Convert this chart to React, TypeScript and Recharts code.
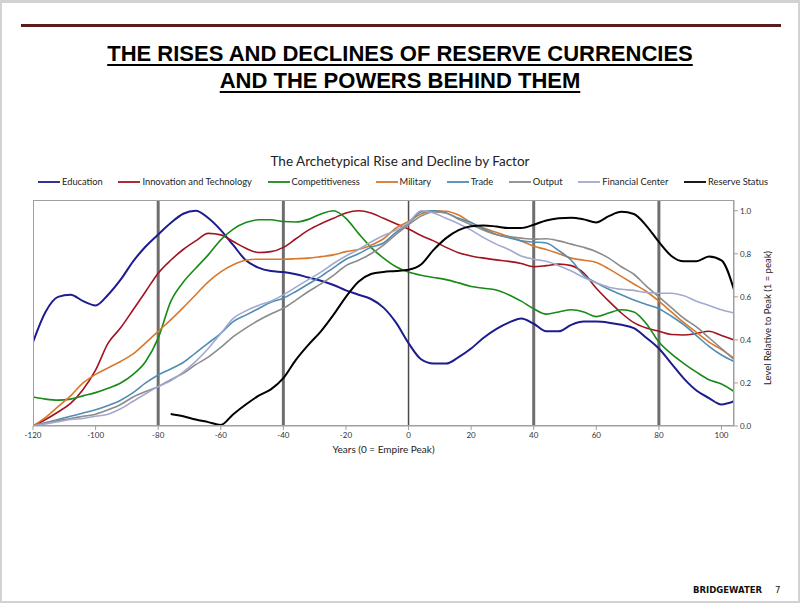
import React from "react";
import { LineChart, Line, XAxis, YAxis, ReferenceLine } from "recharts";

// years relative to the empire peak
const YEARS = [
  -120, -116, -112, -108, -104, -100, -96, -92, -88, -84, -80, -76, -72, -68, -64, -60, -56, -52, -48, -44,
  -40, -36, -32, -28, -24, -20, -16, -12, -8, -4, 0, 4, 8, 12, 16, 20, 24, 28, 32, 36, 40, 44, 48, 52, 56,
  60, 64, 68, 72, 76, 80, 84, 88, 92, 96, 100, 104,
];

const EDUCATION = [
  0.39, 0.53, 0.6, 0.61, 0.58, 0.56, 0.61, 0.68, 0.765, 0.834,
  0.89, 0.943, 0.986, 1.0, 0.966, 0.91, 0.84, 0.77, 0.736, 0.72,
  0.715, 0.705, 0.69, 0.675, 0.655, 0.63, 0.61, 0.59, 0.55, 0.48,
  0.385, 0.31, 0.29, 0.29, 0.32, 0.36, 0.41, 0.45, 0.48, 0.5,
  0.475, 0.44, 0.44, 0.47, 0.485, 0.485, 0.48, 0.47, 0.455, 0.41,
  0.36, 0.29, 0.22, 0.165, 0.13, 0.1, 0.115,
];
const INNOVATION = [
  0.0, 0.03, 0.065, 0.105, 0.17, 0.26, 0.385, 0.456, 0.54, 0.625,
  0.71, 0.77, 0.82, 0.86, 0.895, 0.888, 0.857, 0.826, 0.806, 0.81,
  0.83, 0.87, 0.91, 0.94, 0.965, 0.99, 1.0, 0.99, 0.965, 0.94,
  0.915, 0.885, 0.86, 0.83, 0.805, 0.79, 0.78, 0.772, 0.765, 0.755,
  0.74, 0.745, 0.752, 0.745, 0.71, 0.64, 0.58, 0.525, 0.48, 0.455,
  0.44, 0.425, 0.423, 0.43, 0.44, 0.42, 0.4,
];
const COMPETITIVENESS = [
  0.135, 0.125, 0.12, 0.125, 0.14, 0.155, 0.175, 0.2, 0.24, 0.3,
  0.408, 0.578, 0.668, 0.733, 0.795, 0.865, 0.915, 0.945, 0.958, 0.958,
  0.95, 0.948, 0.96, 0.985, 1.0, 0.965, 0.895, 0.83, 0.78, 0.74,
  0.715, 0.7, 0.69, 0.68, 0.665, 0.648, 0.64, 0.632, 0.61, 0.58,
  0.545, 0.52, 0.53, 0.54, 0.53, 0.508, 0.525, 0.54, 0.53, 0.475,
  0.39, 0.335, 0.29, 0.25, 0.215, 0.195, 0.16,
];
const MILITARY = [
  0.0, 0.04, 0.09, 0.14, 0.2, 0.24, 0.27, 0.3, 0.335, 0.386,
  0.44, 0.493, 0.55, 0.61, 0.67, 0.716, 0.749, 0.77, 0.775, 0.775,
  0.775, 0.777, 0.78, 0.787, 0.795, 0.81, 0.82, 0.84, 0.87, 0.92,
  0.95, 0.985, 1.0, 0.998, 0.98, 0.945, 0.92, 0.9, 0.88, 0.86,
  0.835, 0.82, 0.8, 0.78, 0.77, 0.76, 0.73, 0.695, 0.66, 0.625,
  0.58, 0.53, 0.48, 0.435, 0.39, 0.355, 0.315,
];
const TRADE = [
  0.0, 0.015, 0.03, 0.045, 0.06, 0.075, 0.095, 0.12, 0.155, 0.2,
  0.237, 0.265, 0.295, 0.34, 0.385, 0.43, 0.485, 0.515, 0.545, 0.575,
  0.594, 0.625, 0.66, 0.695, 0.735, 0.775, 0.8, 0.83, 0.85, 0.9,
  0.94, 0.995, 1.0, 0.99, 0.965, 0.945, 0.915, 0.89, 0.875, 0.86,
  0.855, 0.85, 0.815, 0.77, 0.7, 0.665, 0.635, 0.61, 0.585, 0.565,
  0.545, 0.51, 0.47, 0.42, 0.37, 0.33, 0.3,
];
const OUTPUT = [
  0.0, 0.015, 0.025, 0.035, 0.045, 0.055, 0.075, 0.1, 0.135, 0.16,
  0.183, 0.215, 0.245, 0.285, 0.32, 0.365, 0.415, 0.455, 0.49, 0.52,
  0.547, 0.585, 0.625, 0.66, 0.7, 0.745, 0.77, 0.8, 0.84, 0.89,
  0.935, 0.975, 0.995, 0.99, 0.96, 0.935, 0.91, 0.89, 0.88, 0.873,
  0.868, 0.87, 0.86, 0.845, 0.83, 0.81, 0.78, 0.74, 0.705, 0.65,
  0.6, 0.55, 0.5, 0.46, 0.41, 0.36, 0.31,
];
const FINANCIAL_CENTER = [
  0.0, 0.01, 0.02, 0.03, 0.035, 0.045, 0.055, 0.08, 0.115, 0.15,
  0.183, 0.21, 0.25, 0.3, 0.36, 0.43, 0.5, 0.535, 0.56, 0.58,
  0.609, 0.645, 0.68, 0.715, 0.755, 0.79, 0.82, 0.855, 0.885, 0.91,
  0.945, 1.0, 0.99, 0.965, 0.94, 0.91, 0.875, 0.845, 0.82, 0.79,
  0.775, 0.765, 0.745, 0.72, 0.69, 0.665, 0.645, 0.635, 0.63, 0.62,
  0.617, 0.617, 0.605, 0.58, 0.56, 0.54, 0.525,
];
const RESERVE_STATUS = [
  null, null, null, null, null, null, null, null, null, null,
  null, 0.056, 0.045, 0.03, 0.018, 0.005, 0.055, 0.1, 0.14, 0.17,
  0.222, 0.307, 0.377, 0.44, 0.516, 0.6, 0.67, 0.706, 0.716, 0.72,
  0.726, 0.75, 0.818, 0.873, 0.91, 0.928, 0.932, 0.927, 0.92, 0.92,
  0.935, 0.955, 0.965, 0.968, 0.96, 0.946, 0.975, 0.995, 0.985, 0.93,
  0.855, 0.79, 0.765, 0.765, 0.787, 0.77, 0.633,
];

const X_TICKS = [-120, -100, -80, -60, -40, -20, 0, 20, 40, 60, 80, 100];
const Y_TICKS = [0, 0.2, 0.4, 0.6, 0.8, 1.0];
const PHASE_LINES = [-80, -40, 40, 80];

const SERIES = [
  { key: "education", name: "Education", color: "#1c1c8f", values: EDUCATION },
  { key: "innovation", name: "Innovation and Technology", color: "#a3121f", values: INNOVATION },
  { key: "competitiveness", name: "Competitiveness", color: "#178a17", values: COMPETITIVENESS },
  { key: "military", name: "Military", color: "#d8782c", values: MILITARY },
  { key: "trade", name: "Trade", color: "#4f8db3", values: TRADE },
  { key: "output", name: "Output", color: "#8b8b8b", values: OUTPUT },
  { key: "financial", name: "Financial Center", color: "#a3a9cf", values: FINANCIAL_CENTER },
  { key: "reserve", name: "Reserve Status", color: "#000000", values: RESERVE_STATUS },
];

const data = YEARS.map((year, i) => {
  const row: Record<string, number | null> = { year };
  SERIES.forEach((s) => (row[s.key] = s.values[i]));
  return row;
});

const FONT = "Lato, 'Open Sans', sans-serif";
const tick = { fontSize: 8, fill: "#333", fontFamily: FONT };

export default function App() {
  return (
    <div style={{ position: "absolute", left: 0, top: 0, width: 800, height: 603, background: "#fff", fontFamily: FONT, overflow: "hidden" }}>
      <div style={{ position: "absolute", inset: 0, border: "2px solid #d2d2d2", borderTopWidth: 3 }} />
      <div style={{ position: "absolute", left: 21, top: 24, width: 760, height: 3, background: "#5e1b1b" }} />
      <div
        style={{
          position: "absolute",
          left: 0,
          top: 40,
          width: 800,
          textAlign: "center",
          fontFamily: "'Liberation Sans Narrow', 'Arial Narrow', 'Liberation Sans', sans-serif",
          fontWeight: "bold",
          fontSize: 22,
          lineHeight: "27px",
          color: "#000",
        }}
      >
        <span style={{ textDecoration: "underline", textDecorationThickness: 2, textUnderlineOffset: 3 }}>
          THE RISES AND DECLINES OF RESERVE CURRENCIES
        </span>
        <br />
        <span style={{ textDecoration: "underline", textDecorationThickness: 2, textUnderlineOffset: 3 }}>
          AND THE POWERS BEHIND THEM
        </span>
      </div>

      <div style={{ position: "absolute", left: 0, top: 153, width: 800, textAlign: "center", fontSize: 13.5, color: "#222" }}>
        The Archetypical Rise and Decline by Factor
      </div>

      <div
        style={{
          position: "absolute",
          left: 38,
          top: 176,
          width: 730,
          display: "flex",
          justifyContent: "space-between",
          fontSize: 9.3,
          color: "#222",
          whiteSpace: "nowrap",
        }}
      >
        {SERIES.map((s) => (
          <div key={s.key} style={{ display: "flex", alignItems: "center" }}>
            <svg width={22} height={6} style={{ marginRight: 2 }}>
              <line x1={0} y1={3} x2={22} y2={3} stroke={s.color} strokeWidth={1.8} />
            </svg>
            {s.name}
          </div>
        ))}
      </div>

      <div style={{ position: "absolute", left: 0, top: 195 }}>
        <LineChart width={800} height={270} data={data} margin={{ top: 5, right: 26, bottom: 14, left: 33 }}>
          <XAxis
            dataKey="year"
            type="number"
            domain={[-120, 104]}
            ticks={X_TICKS}
            tick={tick}
            tickSize={4}
            axisLine={{ stroke: "#a0a0a0" }}
            tickLine={{ stroke: "#a0a0a0" }}
            height={25}
            allowDataOverflow
          />
          <YAxis
            orientation="right"
            type="number"
            domain={[0, 1.05]}
            ticks={Y_TICKS}
            tickFormatter={(v: number) => v.toFixed(1)}
            tick={tick}
            tickSize={4}
            axisLine={{ stroke: "#a0a0a0" }}
            tickLine={{ stroke: "#a0a0a0" }}
            width={40}
            allowDataOverflow
          />
          {PHASE_LINES.map((x) => (
            <ReferenceLine key={x} x={x} stroke="#6e6e6e" strokeWidth={3} zIndex={-1} />
          ))}
          <ReferenceLine x={0} stroke="#4a4a4a" strokeWidth={1.5} zIndex={-1} />
          {SERIES.map((s) => (
            <Line
              key={s.key}
              dataKey={s.key}
              name={s.name}
              type="monotone"
              stroke={s.color}
              strokeWidth={s.key === "reserve" || s.key === "education" ? 2 : 1.6}
              dot={false}
              isAnimationActive={false}
            />
          ))}
        </LineChart>
      </div>

      <div style={{ position: "absolute", left: 33, top: 200, width: 701, height: 226, boxSizing: "border-box", border: "1px solid #a0a0a0", pointerEvents: "none" }} />

      <div style={{ position: "absolute", left: 0, top: 443, width: 767, textAlign: "center", fontSize: 10, color: "#222" }}>
        Years (0 = Empire Peak)
      </div>
      <div
        style={{
          position: "absolute",
          left: 767,
          top: 318,
          transform: "translate(-50%, -50%) rotate(-90deg)",
          fontSize: 9.5,
          color: "#222",
          whiteSpace: "nowrap",
        }}
      >
        Level Relative to Peak (1 = peak)
      </div>

      <div style={{ position: "absolute", left: 693, top: 585, fontFamily: "'DejaVu Sans', sans-serif", fontWeight: "bold", fontSize: 8.5, color: "#111" }}>
        BRIDGEWATER
      </div>
      <div style={{ position: "absolute", left: 775, top: 585, fontFamily: "'DejaVu Sans', sans-serif", fontSize: 8.5, color: "#111" }}>7</div>
    </div>
  );
}
